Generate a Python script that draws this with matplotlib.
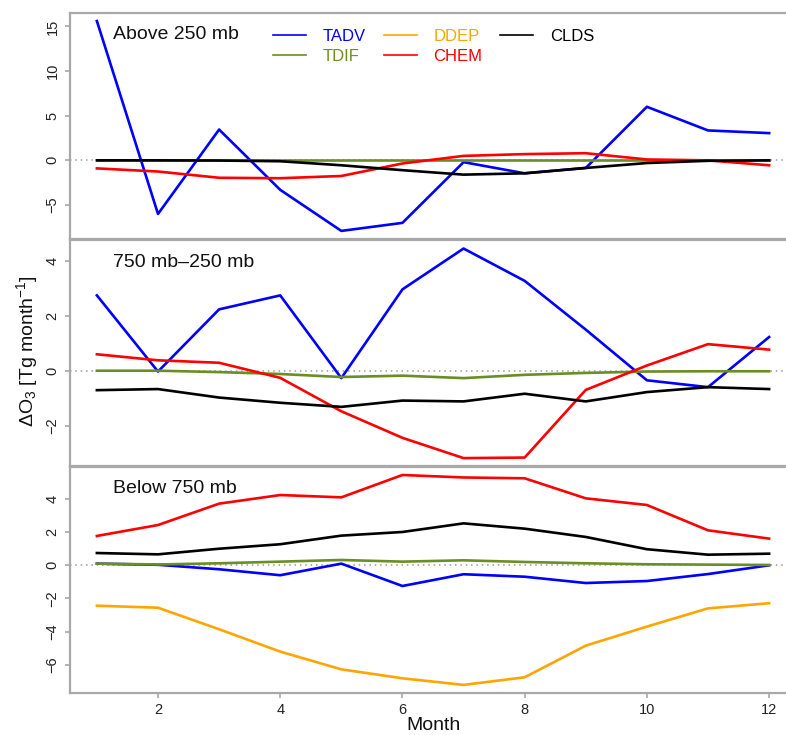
import numpy as np
import matplotlib
matplotlib.use("Agg")
import matplotlib.pyplot as plt

plt.rcParams['font.family'] = ['Liberation Sans', 'DejaVu Sans']
plt.rcParams['mathtext.fontset'] = 'custom'
plt.rcParams['mathtext.rm'] = 'Liberation Sans'
plt.rcParams['mathtext.it'] = 'Liberation Sans:italic'

# months and panel titles
months = np.arange(1, 13)
panel_titles = ['Above 250 mb', '750 mb\u2013250 mb', 'Below 750 mb']

# Above 250 mb (no dry deposition aloft)
tadv_top = [15.6, -6.0, 3.45, -3.3, -7.9, -7.0, -0.2, -1.45, -0.85, 6.0, 3.35, 3.05]
tdif_top = [0, 0, 0, 0, 0, 0, 0, 0, 0, 0, 0, 0]
ddep_top = [None] * 12
chem_top = [-0.9, -1.25, -1.95, -2.0, -1.75, -0.35, 0.5, 0.7, 0.8, 0.1, 0.0, -0.55]
clds_top = [0.0, 0.0, -0.02, -0.1, -0.55, -1.1, -1.6, -1.45, -0.85, -0.3, -0.05, 0.0]

# 750 mb - 250 mb
tadv_mid = [2.75, -0.03, 2.24, 2.75, -0.27, 2.97, 4.46, 3.28, 1.5, -0.35, -0.6, 1.23]
tdif_mid = [0.0, 0.0, -0.05, -0.12, -0.23, -0.18, -0.27, -0.15, -0.08, -0.03, -0.02, -0.02]
ddep_mid = [None] * 12
chem_mid = [0.6, 0.38, 0.29, -0.26, -1.48, -2.45, -3.19, -3.17, -0.7, 0.19, 0.97, 0.77]
clds_mid = [-0.71, -0.67, -0.98, -1.17, -1.32, -1.09, -1.12, -0.84, -1.12, -0.78, -0.6, -0.67]

# Below 750 mb
tadv_bot = [0.1, 0.03, -0.24, -0.6, 0.1, -1.25, -0.54, -0.69, -1.07, -0.95, -0.53, 0.0]
tdif_bot = [0.1, 0.05, 0.12, 0.22, 0.32, 0.22, 0.3, 0.2, 0.12, 0.06, 0.04, 0.02]
ddep_bot = [-2.44, -2.56, -3.86, -5.21, -6.28, -6.82, -7.22, -6.76, -4.85, -3.7, -2.6, -2.29]
chem_bot = [1.77, 2.43, 3.72, 4.24, 4.1, 5.45, 5.3, 5.25, 4.04, 3.64, 2.11, 1.61]
clds_bot = [0.74, 0.66, 1.0, 1.27, 1.79, 2.01, 2.53, 2.21, 1.71, 0.97, 0.64, 0.7]

names = ['TADV', 'TDIF', 'DDEP', 'CHEM', 'CLDS']
colors = ['#0000ff', '#6b8e23', '#ffa500', '#ff0000', '#000000']
panels = [
    [tadv_top, tdif_top, ddep_top, chem_top, clds_top],
    [tadv_mid, tdif_mid, ddep_mid, chem_mid, clds_mid],
    [tadv_bot, tdif_bot, ddep_bot, chem_bot, clds_bot],
]
ylims = [(-8.75, 16.5), (-3.46, 4.79), (-7.69, 5.95)]
yticks = [[-5, 0, 5, 10, 15], [-2, 0, 2, 4], [-6, -4, -2, 0, 2, 4]]

fig = plt.figure(figsize=(7.86, 7.35), dpi=100)
left, width = 70 / 786, 726 / 786
boxes = [(13, 238.5), (239.5, 465.5), (466.7, 692.7)]
spine_col = '#a8a8a8'

axes = []
for k, (t, b) in enumerate(boxes):
    ax = fig.add_axes([left, (735 - b) / 735, width, (b - t) / 735])
    axes.append(ax)
    ax.axhline(0, color='#9a9a9a', lw=1.1, ls=(0, (1, 2.5)), zorder=1)
    for series, name, c in zip(panels[k], names, colors):
        ax.plot(months, np.array(series, dtype=float), color=c, lw=1.9,
                label=name, zorder=2)
    ax.set_xlim(0.56, 12.44)
    ax.set_ylim(*ylims[k])
    ax.set_yticks(yticks[k])
    ax.set_yticklabels([str(v).replace('-', '\u2212') for v in yticks[k]],
                       rotation=90, va='center')
    ax.spines['right'].set_visible(False)
    for s in ['left', 'top', 'bottom']:
        ax.spines[s].set_color(spine_col)
        ax.spines[s].set_linewidth(1.6)
    ax.tick_params(axis='both', colors=spine_col, labelcolor='#222222',
                   length=3.5, width=1.2, labelsize=10.5, pad=4)
    ax.text(0.059, 0.903 if k != 1 else 0.899, panel_titles[k], transform=ax.transAxes,
            fontsize=14, color='#111111', ha='left', va='center')
    if k < 2:
        ax.set_xticks([])
    else:
        ax.set_xticks([2, 4, 6, 8, 10, 12])
        ax.set_xlabel('Month', fontsize=14, labelpad=0, color='#111111')

leg = axes[0].legend(ncol=3, frameon=False, loc='upper left',
                     bbox_to_anchor=(0.2796, 0.93), borderpad=0, borderaxespad=0,
                     handlelength=2.0, handletextpad=1.0, columnspacing=1.05,
                     labelspacing=0.3, fontsize=12, labelcolor='linecolor')
for h in leg.get_lines():
    h.set_linewidth(1.2)

fig.text(0.035, 0.522, r'$\Delta$O$_3$ [Tg month$^{-1}$]', rotation=90,
         fontsize=14, ha='center', va='center', color='#111111')

fig.savefig('out.png', dpi=100)
